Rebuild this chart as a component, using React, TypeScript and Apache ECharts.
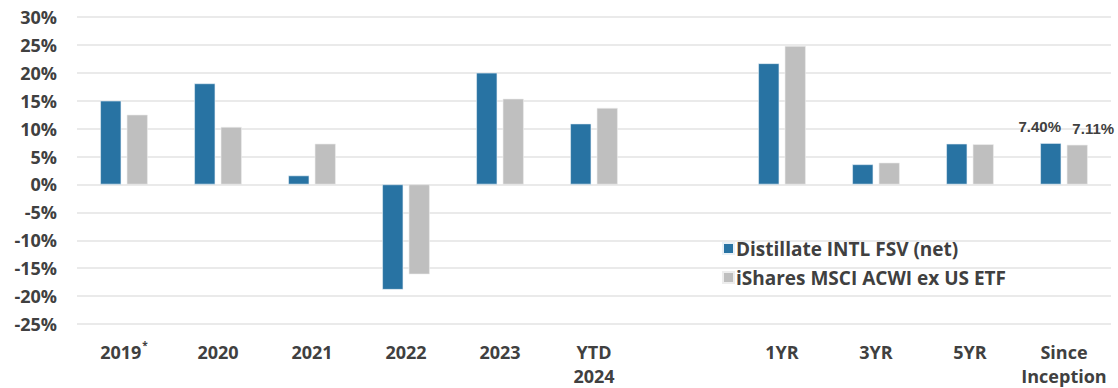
import React, { useEffect, useRef } from "react";
import * as echarts from "echarts";

const categories = ["2019*", "2020", "2021", "2022", "2023", "YTD\n2024", "", "1YR", "3YR", "5YR", "Since\nInception"];
const fundName = "Distillate INTL FSV (net)";
const benchName = "iShares MSCI ACWI ex US ETF";
const fundValues: (number | null)[] = [15.0, 18.1, 1.6, -18.85, 20.0, 10.9, null, 21.7, 3.6, 7.3, 7.4];
const benchValues: (number | null)[] = [12.5, 10.3, 7.3, -16.1, 15.35, 13.7, null, 24.8, 3.9, 7.2, 7.11];
const labelledCategory = "Since\nInception";

const BLUE = "#2873A3";
const GRAY = "#BFBFBF";
const TEXT = "#404040";
const FONT = "'Open Sans', Lato, sans-serif";

export default function App() {
  const ref = useRef<HTMLDivElement>(null);
  useEffect(() => {
    if (!ref.current) return;
    const chart = echarts.init(ref.current, undefined, { renderer: "svg" });
    const labelIdx = categories.indexOf(labelledCategory);
    const mkData = (vals: (number | null)[], dx: number) =>
      vals.map((v, i) =>
        i === labelIdx
          ? {
              value: v,
              label: {
                show: true,
                position: "top",
                distance: 9,
                offset: [dx, 0],
                formatter: (p: any) => p.value.toFixed(2) + "%",
                fontFamily: "'Liberation Sans', Arial, sans-serif",
                fontWeight: "bold",
                fontSize: 15,
                color: TEXT,
              },
            }
          : v
      );
    chart.setOption({
      animation: false,
      grid: { left: 77, right: 7, top: 17, bottom: 63, containLabel: false },
      legend: {
        orient: "vertical",
        left: 717,
        top: 234,
        itemWidth: 11,
        itemHeight: 11,
        itemGap: 10,
        icon: "rect",
        textStyle: { fontFamily: FONT, fontWeight: "bold", fontSize: 19, color: TEXT, padding: [0, 0, 0, -3] },
        data: [fundName, benchName],
      },
      xAxis: {
        type: "category",
        data: categories,
        axisLine: { show: false },
        axisTick: { show: false },
        axisLabel: {
          interval: 0,
          margin: 16,
          fontFamily: FONT,
          fontWeight: "bold",
          fontSize: 18,
          lineHeight: 24,
          color: TEXT,
          formatter: (v: string) => (v.endsWith("*") ? v.slice(0, -1) + "{sup|*}" : v),
          rich: {
            sup: { fontFamily: FONT, fontWeight: "bold", fontSize: 10, color: TEXT, verticalAlign: "top", padding: [0, 0, 8, 1] },
          },
        },
      },
      yAxis: {
        type: "value",
        min: -25,
        max: 30,
        interval: 5,
        axisLine: { show: false },
        axisTick: { show: false },
        splitLine: { lineStyle: { color: "#E3E3E3", width: 1.5 } },
        axisLabel: {
          margin: 20,
          fontFamily: FONT,
          fontWeight: "bold",
          fontSize: 18,
          color: TEXT,
          formatter: (v: number) => v + "%",
        },
      },
      series: [
        {
          name: fundName,
          type: "bar",
          data: mkData(fundValues, -11),
          barWidth: 21,
          barGap: "26%",
          itemStyle: { color: BLUE, borderColor: "#E8F0F6", borderWidth: 0.6 },
        },
        {
          name: benchName,
          type: "bar",
          data: mkData(benchValues, 16),
          barWidth: 21,
          itemStyle: { color: GRAY, borderColor: "#EDEDED", borderWidth: 0.6 },
        },
      ],
    });
    return () => chart.dispose();
  }, []);
  return <div ref={ref} style={{ position: "absolute", left: 0, top: 0, width: 1118, height: 388 }} />;
}
